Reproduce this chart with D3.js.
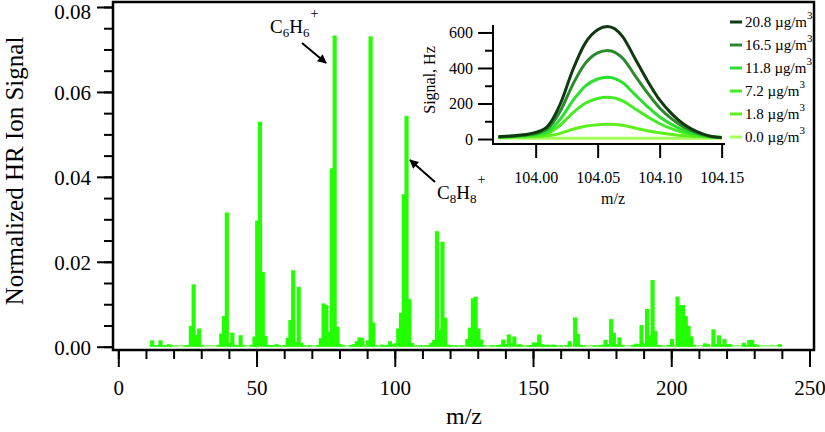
<!DOCTYPE html>
<html><head><meta charset="utf-8">
<script src="https://cdn.jsdelivr.net/npm/d3@7"></script>
<style>
body{margin:0;background:#fff}
svg{display:block}
text,tspan{font-family:"Liberation Serif","Times New Roman",serif;fill:#000}
</style>
</head><body>
<svg id="c" width="825" height="432"></svg>
<script>
// ---------- main spectrum data ----------
const mz = [12,13,14,15,16,17,18,19,24,25,26,27,28,29,30,36,37,38,39,40,41,42,43,44,45,48,49,50,51,52,53,54,55,56,57,58,60,61,62,63,64,65,66,67,69,72,73,74,75,76,77,78,79,80,81,84,85,86,87,88,90,91,92,93,95,96,97,98,99,100,101,102,103,104,105,106,107,109,111,112,113,114,115,116,117,118,119,120,122,124,126,127,128,129,130,131,132,135,137,138,139,140,141,142,143,144,145,146,148,149,150,151,152,153,154,155,156,157,158,160,162,163,165,166,167,168,172,174,175,176,177,178,179,180,181,182,186,187,188,189,190,191,192,193,194,195,196,199,200,202,203,204,205,206,207,208,212,213,215,216,217,218,219,220,221,226,227,228,229,230,231,239];
const signal = [0.0015,0.0003,0.0004,0.0015,0.0004,0.0003,0.0006,0.0002,0.0003,0.0004,0.0049,0.0147,0.0028,0.0043,0.0003,0.0004,0.0031,0.0072,0.0316,0.0010,0.0033,0.0004,0.0003,0.0027,0.0003,0.0005,0.0024,0.0297,0.0530,0.0176,0.0025,0.0004,0.0004,0.0003,0.0006,0.0003,0.0004,0.0021,0.0063,0.0180,0.0012,0.0141,0.0009,0.0003,0.0003,0.0004,0.0020,0.0102,0.0098,0.0035,0.0420,0.0733,0.0047,0.0006,0.0003,0.0004,0.0006,0.0013,0.0022,0.0020,0.0015,0.0731,0.0057,0.0003,0.0005,0.0004,0.0004,0.0013,0.0006,0.0008,0.0043,0.0080,0.0359,0.0543,0.0112,0.0009,0.0003,0.0003,0.0003,0.0003,0.0009,0.0016,0.0272,0.0039,0.0247,0.0068,0.0005,0.0003,0.0003,0.0003,0.0018,0.0045,0.0114,0.0118,0.0043,0.0017,0.0003,0.0003,0.0004,0.0005,0.0017,0.0006,0.0029,0.0008,0.0024,0.0004,0.0006,0.0003,0.0003,0.0004,0.0010,0.0010,0.0029,0.0006,0.0004,0.0005,0.0004,0.0005,0.0003,0.0003,0.0004,0.0013,0.0069,0.0030,0.0004,0.0003,0.0003,0.0004,0.0005,0.0016,0.0006,0.0065,0.0033,0.0006,0.0022,0.0004,0.0004,0.0007,0.0006,0.0051,0.0008,0.0089,0.0027,0.0157,0.0037,0.0004,0.0003,0.0004,0.0018,0.0118,0.0098,0.0098,0.0072,0.0049,0.0024,0.0004,0.0008,0.0006,0.0041,0.0006,0.0027,0.0006,0.0018,0.0006,0.0006,0.0009,0.0004,0.0016,0.0016,0.0006,0.0004,0.0006];
const baselineSpan = [11, 240];
const baselineLevel = 0.0002;
const xMajorTicks = [0,50,100,150,200,250];
const yMajorTicks = [0,0.02,0.04,0.06,0.08];

// ---------- inset data ----------
const insetMz = [103.97,103.98,103.99,104.00,104.01,104.02,104.03,104.04,104.05,104.058,104.07,104.08,104.09,104.10,104.11,104.12,104.13,104.14,104.15];
const conc208 = [13,17,24,37,75,200,390,540,615,633,578,455,330,220,140,80,42,18,7];
const conc165 = [12,15,21,31,61,159,308,426,485,499,456,359,261,175,112,65,35,16,8];
const conc118 = [12,14,18,25,45,113,216,298,338,348,318,251,184,124,81,48,27,14,8];
const conc72  = [11,13,15,20,34,79,147,201,228,235,215,171,126,86,57,35,22,13,9];
const conc18  = [10,11,12,13,18,32,55,72,81,83,77,62,47,35,25,18,14,11,10];
const conc00  = [6,6,5,5,5,5,5,5,5,5,5,5,5,5,5,5,5,5,5];
const legendLabels = ["20.8","16.5","11.8","7.2","1.8","0.0"];
const insetSeries = [conc208, conc165, conc118, conc72, conc18, conc00];
const insetColors = ["#0f3a0f","#2b8a2b","#2ee02e","#44ec22","#5ef01c","#a2ff5a"];
const insetXTicks = [104.00,104.05,104.10,104.15];
const insetYMajor = [0,200,400,600];
const insetYMinor = [100,300,500];

const svg = d3.select("#c");
const FONT = '"Liberation Serif","Times New Roman",serif';

// ---------- main scales ----------
const x = d3.scaleLinear().domain([0,250]).range([118.3, 809.5]);
const y = d3.scaleLinear().domain([0,0.08]).range([346.7, 7]);

// arrow marker
const defs = svg.append("defs");
defs.append("marker").attr("id","ah").attr("viewBox","0 0 10 10").attr("refX",9).attr("refY",5)
  .attr("markerWidth",10).attr("markerHeight",9).attr("markerUnits","userSpaceOnUse").attr("orient","auto")
  .append("path").attr("d","M0,0 L10,5 L0,10 z").attr("fill","#000");

// baseline
svg.append("line")
  .attr("x1", x(baselineSpan[0])).attr("x2", x(baselineSpan[1]))
  .attr("y1", y(baselineLevel)).attr("y2", y(baselineLevel))
  .attr("stroke","#7dff5a").attr("stroke-width",1.5);

// bars
const barW = x(1.5) - x(0);
svg.append("g").selectAll("rect").data(mz.map((m,i)=>({m, v:signal[i]}))).join("rect")
  .attr("x", d => x(d.m + 0.25) - barW/2)
  .attr("y", d => y(d.v))
  .attr("width", barW)
  .attr("height", d => y(0) - y(d.v))
  .attr("fill","#22ff00");

// frame
svg.append("rect").attr("x",113).attr("y",2).attr("width",701).attr("height",348)
  .attr("fill","none").attr("stroke","#000").attr("stroke-width",2.5);

// y axis
const yMinor = d3.range(0, 0.0801, 0.005);
const gyMinor = svg.append("g").attr("transform","translate(112,0)")
  .call(d3.axisLeft(y).tickValues(yMinor).tickSize(8).tickFormat(""));
const gy = svg.append("g").attr("transform","translate(112,0)")
  .call(d3.axisLeft(y).tickValues(yMajorTicks).tickSize(15).tickPadding(6).tickFormat(d3.format(".2f")));
[gyMinor, gy].forEach(g => { g.select(".domain").remove(); g.selectAll("line").attr("stroke","#000").attr("stroke-width",2); });
gy.selectAll("text").attr("font-family",FONT).attr("font-size",21).attr("fill","#000")
  .attr("dy", d => d === 0.08 ? "0.55em" : "0.36em");

// x axis
const xMinor = d3.range(0, 251, 10);
const gxMinor = svg.append("g").attr("transform","translate(0,351)")
  .call(d3.axisBottom(x).tickValues(xMinor).tickSize(8).tickFormat(""));
const gx = svg.append("g").attr("transform","translate(0,351)")
  .call(d3.axisBottom(x).tickValues(xMajorTicks).tickSize(16).tickPadding(13).tickFormat(d3.format("d")));
[gxMinor, gx].forEach(g => { g.select(".domain").remove(); g.selectAll("line").attr("stroke","#000").attr("stroke-width",2); });
gx.selectAll("text").attr("font-family",FONT).attr("font-size",21).attr("fill","#000");

// axis titles
svg.append("text").attr("x",464).attr("y",424).attr("text-anchor","middle")
  .attr("font-size",24).attr("fill","#000").text("m/z");
svg.append("text").attr("transform","translate(22.5,171) rotate(-90)").attr("text-anchor","middle")
  .attr("font-size",25).attr("fill","#000").text("Normalized HR Ion Signal");

// annotations
function formula(xp, yp, n) {
  const t = svg.append("text").attr("x",xp).attr("y",yp).attr("font-size",19).attr("fill","#000");
  t.append("tspan").attr("fill","#000").text("C");
  t.append("tspan").attr("fill","#000").attr("font-size",13).attr("dy",4).text(n);
  t.append("tspan").attr("fill","#000").attr("dy",-4).text("H");
  t.append("tspan").attr("fill","#000").attr("font-size",13).attr("dy",4).text(n);
  t.append("tspan").attr("fill","#000").attr("font-size",14).attr("dy",-19).attr("dx",1).text("+");
}
formula(270, 33, "6");
formula(437, 199, "8");
svg.append("line").attr("x1",302).attr("y1",43).attr("x2",326).attr("y2",63)
  .attr("stroke","#000").attr("stroke-width",2).attr("marker-end","url(#ah)");
svg.append("line").attr("x1",435).attr("y1",182).attr("x2",410).attr("y2",160)
  .attr("stroke","#000").attr("stroke-width",2).attr("marker-end","url(#ah)");

// ---------- inset ----------
const xi = d3.scaleLinear().domain([103.9664, 104.1527]).range([494, 725]);
const yi = d3.scaleLinear().domain([-28, 642]).range([144, 25]);

const line = d3.line().x(d => xi(d[0])).y(d => yi(d[1])).curve(d3.curveMonotoneX);
for (let i = insetSeries.length - 1; i >= 0; i--) {
  svg.append("path").datum(insetMz.map((m,k)=>[m, insetSeries[i][k]]))
    .attr("d", line).attr("fill","none").attr("stroke", insetColors[i]).attr("stroke-width",3);
}

// inset axes
svg.append("line").attr("x1",493).attr("x2",493).attr("y1",25).attr("y2",145)
  .attr("stroke","#000").attr("stroke-width",2);
svg.append("line").attr("x1",492).attr("x2",725).attr("y1",144).attr("y2",144)
  .attr("stroke","#000").attr("stroke-width",2);
const giyMinor = svg.append("g").attr("transform","translate(493,0)")
  .call(d3.axisLeft(yi).tickValues(insetYMinor).tickSize(8).tickFormat(""));
const giy = svg.append("g").attr("transform","translate(493,0)")
  .call(d3.axisLeft(yi).tickValues(insetYMajor).tickSize(15).tickPadding(5).tickFormat(d3.format("d")));
const gix = svg.append("g").attr("transform","translate(0,144)")
  .call(d3.axisBottom(xi).tickValues(insetXTicks).tickSize(14).tickPadding(14).tickFormat(d3.format(".2f")));
[giyMinor, giy, gix].forEach(g => { g.select(".domain").remove(); g.selectAll("line").attr("stroke","#000").attr("stroke-width",2); });
[giy, gix].forEach(g => g.selectAll("text").attr("font-family",FONT).attr("font-size",16).attr("fill","#000"));

svg.append("text").attr("transform","translate(435,80) rotate(-90)").attr("text-anchor","middle")
  .attr("font-size",16).attr("fill","#000").text("Signal, Hz");
svg.append("text").attr("x",613).attr("y",204).attr("text-anchor","middle")
  .attr("font-size",16).attr("fill","#000").text("m/z");

// legend
legendLabels.forEach((lab, i) => {
  const ly = 22 + i * 23;
  svg.append("line").attr("x1",730).attr("x2",742).attr("y1",ly).attr("y2",ly)
    .attr("stroke", insetColors[i]).attr("stroke-width",3);
  const t = svg.append("text").attr("x",745).attr("y",ly+5).attr("font-size",15).attr("fill","#000");
  t.append("tspan").attr("fill","#000").text(lab + " \u00b5g/m");
  t.append("tspan").attr("fill","#000").attr("font-size",11).attr("dy",-8).text("3");
});
</script>
</body></html>
